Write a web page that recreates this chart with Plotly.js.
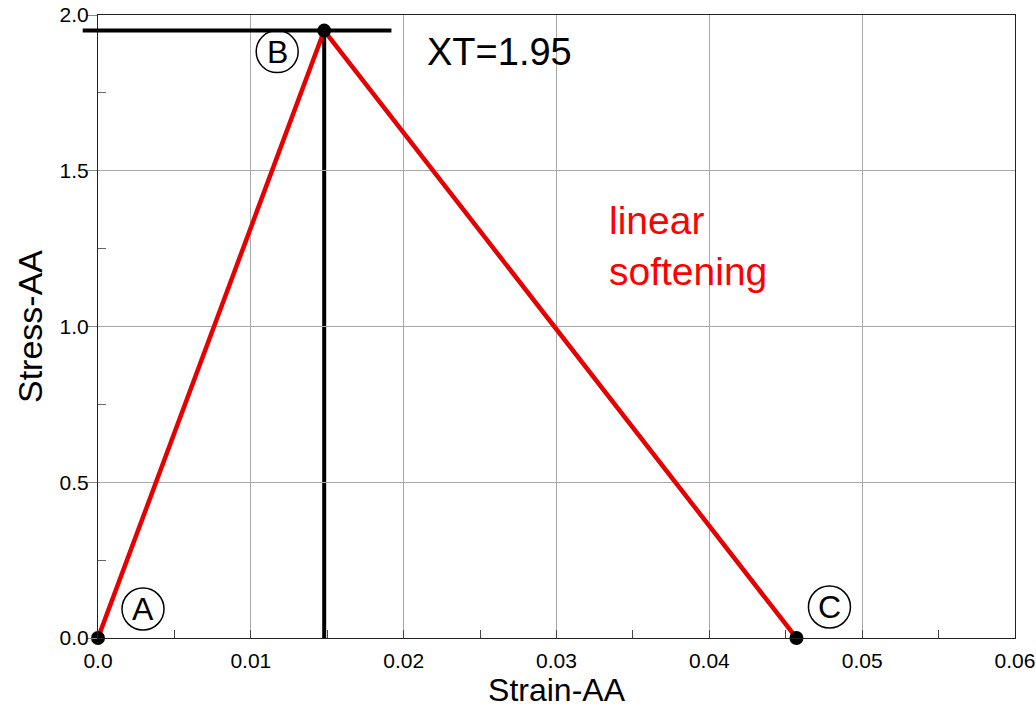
<!DOCTYPE html>
<html>
<head>
<meta charset="utf-8">
<script src="https://cdn.plot.ly/plotly-3.0.1.min.js"></script>
<style>html,body{margin:0;padding:0;background:#fff;}#chart{width:1036px;height:711px;}</style>
</head>
<body>
<div id="chart"></div>
<script>
// Data
var pointLabels = ["A", "B", "C"];
var strain = [0.0, 0.0148, 0.0457];
var stress = [0.0, 1.95, 0.0];
var XT = 1.95;
var refLineStrain = [-0.001, 0.0192];
var xTickVals = [0, 0.01, 0.02, 0.03, 0.04, 0.05, 0.06];
var xTickText = ["0.0", "0.01", "0.02", "0.03", "0.04", "0.05", "0.06"];
var yTickVals = [0, 0.5, 1.0, 1.5, 2.0];
var yTickText = ["0.0", "0.5", "1.0", "1.5", "2.0"];
var xRange = [0, 0.06];
var yRange = [0, 2.0];

var FONT = "Liberation Sans, Arial, sans-serif";

var traces = [
  {x: strain, y: stress, mode: "lines", line: {color: "#e60000", width: 4.5}, hoverinfo: "skip"},
  {x: strain, y: stress, mode: "markers", marker: {color: "#000", size: 14}, cliponaxis: false, hoverinfo: "skip"}
];

// label offsets in pixels (circle centre relative to point, +y is up)
var offs = [[45, 29], [-47, -21], [33, 31]];
var R = 21;
var shapes = [
  {type: "line", xref: "paper", yref: "y",
   x0: (refLineStrain[0] - xRange[0]) / (xRange[1] - xRange[0]),
   x1: (refLineStrain[1] - xRange[0]) / (xRange[1] - xRange[0]),
   y0: XT, y1: XT, line: {color: "#000", width: 4}, layer: "above"},
  {type: "line", xref: "x", yref: "y", x0: strain[1], x1: strain[1], y0: 0, y1: stress[1],
   line: {color: "#000", width: 4}, layer: "below"}
];
var annotations = [
  {x: 0.0263, y: 1.88, xref: "x", yref: "y", text: "XT=1.95", showarrow: false,
   font: {family: FONT, size: 38, color: "#000"}},
  {x: 0.0333, y: 1.26, xref: "x", yref: "y", text: "linear<br>softening", showarrow: false,
   xanchor: "left", align: "left", font: {family: FONT, size: 39, color: "#ff0000"}}
];
for (var i = 0; i < pointLabels.length; i++) {
  var dx = offs[i][0], dy = offs[i][1];
  shapes.push({type: "circle", xref: "x", yref: "y", xsizemode: "pixel", ysizemode: "pixel",
    xanchor: strain[i], yanchor: stress[i],
    x0: dx - R, x1: dx + R, y0: dy - R, y1: dy + R,
    line: {color: "#000", width: 1.5}, layer: "above"});
  annotations.push({x: strain[i], y: stress[i], xref: "x", yref: "y", text: pointLabels[i],
    showarrow: false, xshift: dx, yshift: dy, font: {family: FONT, size: 32, color: "#000"}});
}

var layout = {
  width: 1036, height: 711,
  margin: {l: 98, r: 21, t: 15, b: 73},
  paper_bgcolor: "#fff", plot_bgcolor: "#fff",
  showlegend: false,
  font: {family: FONT, color: "#000"},
  xaxis: {
    range: xRange, tickvals: xTickVals, ticktext: xTickText,
    showgrid: true, gridcolor: "#a8a8a8", gridwidth: 1,
    showline: true, linecolor: "#222", linewidth: 1, mirror: true,
    ticks: "inside", ticklen: 8, tickcolor: "#444",
    minor: {tickvals: [0.005, 0.015, 0.025, 0.035, 0.045, 0.055], ticks: "inside", ticklen: 8, tickcolor: "#444", showgrid: false},
    tickfont: {family: FONT, size: 21, color: "#000"},
    ticklabelstandoff: 4,
    ticklabeloverflow: "allow",
    title: {text: "Strain-AA", font: {family: FONT, size: 32, color: "#000"}, standoff: 0},
    zeroline: false, fixedrange: true
  },
  yaxis: {
    range: yRange, tickvals: yTickVals, ticktext: yTickText,
    showgrid: true, gridcolor: "#a8a8a8", gridwidth: 1,
    showline: true, linecolor: "#222", linewidth: 1, mirror: true,
    ticks: "outside", ticklen: 10, tickcolor: "#888",
    minor: {tickvals: [0.25, 0.75, 1.25, 1.75], ticks: "inside", ticklen: 8, tickcolor: "#666", showgrid: false},
    tickfont: {family: FONT, size: 21, color: "#000"},
    ticklabelstandoff: -6,
    ticklabeloverflow: "allow",
    title: {text: "Stress-AA", font: {family: FONT, size: 34, color: "#000"}, standoff: 6},
    zeroline: false, fixedrange: true
  },
  shapes: shapes,
  annotations: annotations
};

Plotly.newPlot("chart", traces, layout, {displayModeBar: false, staticPlot: true});
</script>
</body>
</html>
